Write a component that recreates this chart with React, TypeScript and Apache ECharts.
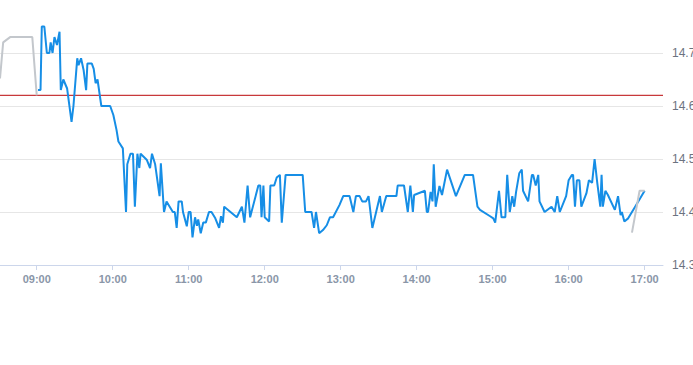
import React, { useEffect, useRef } from "react";
import * as echarts from "echarts";

// Pre-market (grey)
const preTimes = ["08:31", "08:33:30", "08:39", "08:56:30", "09:00"];
const prePrices = [14.652, 14.72, 14.73, 14.73, 14.62];

// Trading session (blue)
const sessionTimes = [
  "09:01", "09:03", "09:04", "09:06", "09:08", "09:10", "09:11", "09:12:30", "09:14", "09:16",
  "09:18", "09:19", "09:21", "09:24", "09:27:30", "09:29", "09:32", "09:33", "09:35", "09:37",
  "09:39", "09:40", "09:43:30", "09:45", "09:46:30", "09:48", "09:51", "09:58", "10:00:30", "10:03",
  "10:04:30", "10:08", "10:10:30", "10:11:30", "10:14", "10:16", "10:17:30", "10:19:30", "10:21", "10:22",
  "10:27", "10:29:30", "10:31", "10:33:30", "10:37", "10:38", "10:40:30", "10:42:30", "10:45", "10:47:30",
  "10:49", "10:50:30", "10:52", "10:54:30", "10:55:30", "10:58:30", "11:00", "11:01:30", "11:03", "11:05",
  "11:06:30", "11:07:30", "11:09:30", "11:11:30", "11:13:30", "11:16", "11:18", "11:21", "11:24", "11:25:30",
  "11:27", "11:28", "11:38", "11:42", "11:44", "11:46:30", "11:48:30", "11:55", "11:56:30", "11:57:30",
  "11:59", "12:00", "12:03:30", "12:04:30", "12:07:30", "12:09:30", "12:12", "12:13:30", "12:16:30", "12:30",
  "12:32", "12:37", "12:39", "12:40:30", "12:43", "12:46", "12:49", "12:51:30", "12:54", "12:59",
  "13:02", "13:07", "13:10", "13:12", "13:15", "13:17", "13:20", "13:22", "13:25", "13:28",
  "13:31", "13:32:30", "13:36", "13:44", "13:45", "13:50", "13:53", "13:55", "13:57", "13:58",
  "14:06:30", "14:08", "14:09", "14:11", "14:12:30", "14:13:30", "14:15", "14:18", "14:20", "14:24",
  "14:31", "14:38", "14:44:30", "14:48", "14:50", "14:58", "15:00:30", "15:02", "15:05", "15:07",
  "15:10", "15:11:30", "15:13:30", "15:15:30", "15:17", "15:18:30", "15:21", "15:23", "15:24", "15:28",
  "15:31", "15:32", "15:34", "15:36", "15:37", "15:41", "15:46:30", "15:49", "15:51", "15:53",
  "15:58", "16:00", "16:02:30", "16:03:30", "16:05", "16:06:30", "16:08:30", "16:10", "16:14", "16:16",
  "16:18:30", "16:20:30", "16:22:30", "16:25", "16:26", "16:27", "16:29", "16:31", "16:36:30", "16:39",
  "16:41", "16:42", "16:44", "16:47", "16:52:30", "17:00",
];
const sessionPrices = [
  14.63, 14.63, 14.75, 14.75, 14.70, 14.70, 14.72, 14.70, 14.73, 14.715,
  14.74, 14.63, 14.65, 14.633, 14.57, 14.60, 14.69, 14.677, 14.69, 14.668,
  14.63, 14.68, 14.68, 14.67, 14.643, 14.65, 14.60, 14.60, 14.583, 14.555,
  14.533, 14.52, 14.40, 14.49, 14.51, 14.51, 14.41, 14.51, 14.483, 14.51,
  14.498, 14.483, 14.51, 14.49, 14.43, 14.492, 14.40, 14.42, 14.41, 14.40,
  14.40, 14.37, 14.42, 14.42, 14.40, 14.373, 14.40, 14.40, 14.352, 14.39,
  14.374, 14.386, 14.36, 14.38, 14.38, 14.40, 14.40, 14.388, 14.37, 14.392,
  14.38, 14.41, 14.39, 14.41, 14.38, 14.45, 14.39, 14.45, 14.45, 14.39,
  14.45, 14.39, 14.382, 14.45, 14.45, 14.465, 14.47, 14.38, 14.47, 14.47,
  14.40, 14.40, 14.37, 14.40, 14.36, 14.366, 14.375, 14.39, 14.39, 14.413,
  14.43, 14.43, 14.40, 14.43, 14.43, 14.42, 14.42, 14.43, 14.37, 14.40,
  14.43, 14.40, 14.43, 14.43, 14.45, 14.45, 14.40, 14.45, 14.40, 14.432,
  14.44, 14.40, 14.40, 14.438, 14.42, 14.49, 14.41, 14.449, 14.432, 14.48,
  14.43, 14.47, 14.47, 14.41, 14.404, 14.392, 14.388, 14.38, 14.44, 14.39,
  14.39, 14.47, 14.40, 14.43, 14.41, 14.438, 14.473, 14.48, 14.44, 14.42,
  14.47, 14.47, 14.45, 14.47, 14.42, 14.40, 14.41, 14.40, 14.43, 14.40,
  14.43, 14.46, 14.47, 14.47, 14.41, 14.46, 14.46, 14.41, 14.435, 14.46,
  14.455, 14.50, 14.457, 14.41, 14.47, 14.41, 14.44, 14.432, 14.404, 14.43,
  14.394, 14.40, 14.382, 14.388, 14.41, 14.44,
];

// Post-market (grey)
const postTimes = ["16:50", "16:56", "17:00"];
const postPrices = [14.361, 14.44, 14.44];

// Previous close reference line
const previousClose = 14.62;

// Axis ticks
const hourLabels = ["09:00", "10:00", "11:00", "12:00", "13:00", "14:00", "15:00", "16:00", "17:00"];
const yTicks = [14.3, 14.4, 14.5, 14.6, 14.7];
const xStart = "08:31";
const xEnd = "17:14:30";

const toMin = (s: string): number => {
  const p = s.split(":").map(Number);
  return p[0] * 60 + p[1] + (p[2] || 0) / 60;
};
const fmt = (v: number): string => {
  const h = Math.floor(Math.round(v) / 60);
  const m = Math.round(v) % 60;
  return String(h).padStart(2, "0") + ":" + String(m).padStart(2, "0");
};
const pairs = (t: string[], p: number[]) => t.map((s, i) => [toMin(s), p[i]]);

export default function App() {
  const ref = useRef<HTMLDivElement>(null);
  useEffect(() => {
    if (!ref.current) return;
    const chart = echarts.init(ref.current, null, { renderer: "svg" });
    const hourVals = hourLabels.map(toMin);
    const gridColors = yTicks.map(() => "#e6e6e6").concat(["rgba(255,255,255,0)"]);
    chart.setOption({
      animation: false,
      backgroundColor: "#ffffff",
      grid: {
        left: 0,
        right: 30,
        top: 0,
        bottom: 100,
        containLabel: false,
        outerBoundsMode: "none",
      },
      xAxis: {
        type: "value",
        min: toMin(xStart),
        max: toMin(xEnd),
        axisLine: { show: true, lineStyle: { color: "#ccd6eb", width: 1 } },
        axisTick: { show: true, length: 5, lineStyle: { color: "#ccd6eb" }, customValues: hourVals },
        splitLine: { show: false },
        axisLabel: {
          customValues: hourVals,
          formatter: (v: number) => fmt(v),
          color: "#8a96a8",
          fontSize: 11,
          fontWeight: "bold",
          fontFamily: "Liberation Sans, Arial, sans-serif",
          margin: 8,
        },
      },
      yAxis: {
        type: "value",
        position: "right",
        min: 14.3,
        max: 14.8,
        interval: 0.1,
        axisLine: { show: false },
        axisTick: { show: false },
        splitLine: { show: true, lineStyle: { color: gridColors, width: 1 } },
        axisLabel: {
          customValues: yTicks,
          formatter: (v: number) => v.toFixed(1),
          color: "#6b7380",
          fontSize: 12,
          fontFamily: "Liberation Sans, Arial, sans-serif",
          margin: 9,
        },
      },
      series: [
        {
          type: "line",
          name: "prevClose",
          data: [
            [toMin(xStart), previousClose],
            [toMin(xEnd), previousClose],
          ],
          showSymbol: false,
          silent: true,
          itemStyle: { color: "#c8383b" },
          lineStyle: { color: "#c8383b", width: 1.2 },
          z: 1,
        },
        {
          type: "line",
          name: "pre",
          data: pairs(preTimes, prePrices),
          showSymbol: false,
          itemStyle: { color: "#c3c7cc" },
          lineStyle: { color: "#c3c7cc", width: 2 },
          z: 2,
        },
        {
          type: "line",
          name: "session",
          data: pairs(sessionTimes, sessionPrices),
          showSymbol: false,
          itemStyle: { color: "#168ee6" },
          lineStyle: { color: "#168ee6", width: 2 },
          z: 3,
        },
        {
          type: "line",
          name: "post",
          data: pairs(postTimes, postPrices),
          showSymbol: false,
          itemStyle: { color: "#c3c7cc" },
          lineStyle: { color: "#c3c7cc", width: 2 },
          z: 4,
        },
      ],
    });
    return () => chart.dispose();
  }, []);
  return (
    <div
      ref={ref}
      style={{ position: "fixed", left: 0, top: 0, width: 693, height: 365, background: "#fff" }}
    />
  );
}
